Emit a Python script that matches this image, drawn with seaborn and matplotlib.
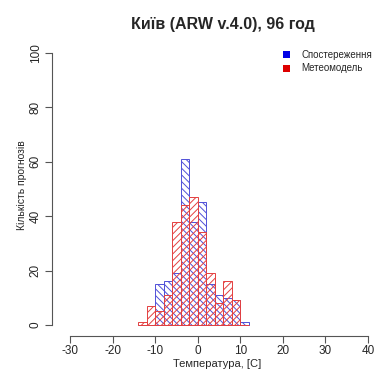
import os
import numpy as np
import pandas as pd
import matplotlib
matplotlib.use("Agg")
import matplotlib.pyplot as plt
import matplotlib.font_manager as fm
import seaborn as sns
from matplotlib.patches import Rectangle

# --- data ---
bin_edges = [-14, -12, -10, -8, -6, -4, -2, 0, 2, 4, 6, 8, 10, 12]
obs_counts = [0, 0, 15, 16, 19, 61, 38, 45, 15, 11, 10, 9, 1]
model_counts = [1, 7, 5, 11, 38, 44, 47, 34, 19, 8, 16, 9, 0]
x_ticks = [-30, -20, -10, 0, 10, 20, 30, 40]
y_ticks = [0, 20, 40, 60, 80, 100]
title = "Київ (ARW v.4.0), 96 год"
x_label = "Температура, [C]"
y_label = "Кількість прогнозів"
legend_labels = ["Спостереження", "Метеомодель"]
legend_colors = ["#0000e6", "#dd0000"]

centers = [(a + b) / 2 for a, b in zip(bin_edges[:-1], bin_edges[1:])]
df_obs = pd.DataFrame({"t": centers, "n": obs_counts})
df_mod = pd.DataFrame({"t": centers, "n": model_counts})

sns.set_style("white")


def find_font(name):
    for f in fm.findSystemFonts():
        if os.path.basename(f) == name:
            return f
    return None


reg_file = find_font("LiberationSans-Regular.ttf")
bold_file = find_font("LiberationSans-Bold.ttf")
if reg_file:
    fm.fontManager.addfont(reg_file)
    plt.rcParams["font.family"] = [fm.FontProperties(fname=reg_file).get_name(), "DejaVu Sans"]
else:
    plt.rcParams["font.family"] = ["DejaVu Sans"]
plt.rcParams["hatch.linewidth"] = 0.7


def fprop(size, bold=False):
    f = bold_file if bold else reg_file
    if f:
        return fm.FontProperties(fname=f, size=size)
    return fm.FontProperties(size=size, weight="bold" if bold else "normal")


W, H = 378, 374
fig = plt.figure(figsize=(W / 100, H / 100), dpi=100)
ax_l, ax_r, ax_t, ax_b = 52, 378, 42, 336
ax = fig.add_axes([ax_l / W, 1 - ax_b / H, (ax_r - ax_l) / W, (ax_b - ax_t) / H])

blue = "#5050d8"
red = "#e44040"

n0 = len(ax.patches)
sns.histplot(data=df_obs, x="t", weights="n", bins=bin_edges, ax=ax,
             element="bars", fill=True, stat="count")
for p in ax.patches[n0:]:
    p.set_facecolor("none")
    p.set_edgecolor(blue)
    p.set_linewidth(0.7)
    p.set_hatch("\\\\\\\\\\")
n1 = len(ax.patches)
sns.histplot(data=df_mod, x="t", weights="n", bins=bin_edges, ax=ax,
             element="bars", fill=True, stat="count")
for p in ax.patches[n1:]:
    p.set_facecolor("none")
    p.set_edgecolor(red)
    p.set_linewidth(0.7)
    p.set_hatch("/////")

# pixel mapping: -30 -> 70 px, 40 -> 368 px ; 0 -> 325 px, 100 -> 52.7 px
xs = (368 - 70) / 70.0
ax.set_xlim(-30 - (70 - ax_l) / xs, 40 + (ax_r - 368) / xs)
ys = (325 - 52.7) / 100.0
ax.set_ylim(-(ax_b - 325) / ys, 100 + (52.7 - ax_t) / ys)

for s in ["top", "right"]:
    ax.spines[s].set_visible(False)
for s in ["left", "bottom"]:
    ax.spines[s].set_color("#555555")
    ax.spines[s].set_linewidth(0.8)
ax.spines["bottom"].set_bounds(-30, 40)
ax.spines["left"].set_bounds(0, 100)
ax.set_xticks(x_ticks)
ax.set_yticks(y_ticks)
ax.set_xticklabels([str(v) for v in x_ticks], fontproperties=fprop(8.5))
ax.set_yticklabels([str(v) for v in y_ticks], fontproperties=fprop(8.5),
                   rotation=90, va="center")
ax.tick_params(axis="both", direction="out", length=5, width=0.8, color="#555555",
               bottom=True, left=True)
ax.tick_params(axis="x", pad=1.5)
ax.tick_params(axis="y", pad=2.5)
ax.set_xlabel("")
ax.set_ylabel("")

fig.text(217.5 / W, 1 - 364 / H, x_label, ha="center", va="center",
         fontproperties=fprop(8))
fig.text(22 / W, 1 - 185 / H, y_label, ha="center", va="center", rotation=90,
         fontproperties=fprop(7.5))
fig.text(223 / W, 1 - 25 / H, title, ha="center", va="center",
         fontproperties=fprop(11.5, bold=True))

row_y = [54.7, 68.0]
for lab, col, yy in zip(legend_labels, legend_colors, row_y):
    fig.patches.append(Rectangle((283 / W, 1 - (yy + 3.5) / H), 7 / W, 7 / H,
                                 transform=fig.transFigure, facecolor=col,
                                 edgecolor="none"))
    fig.text(301 / W, 1 - yy / H, lab, ha="left", va="center", fontproperties=fprop(7))

ax.set_facecolor("white")
fig.savefig("out.png", dpi=100, facecolor="white")
